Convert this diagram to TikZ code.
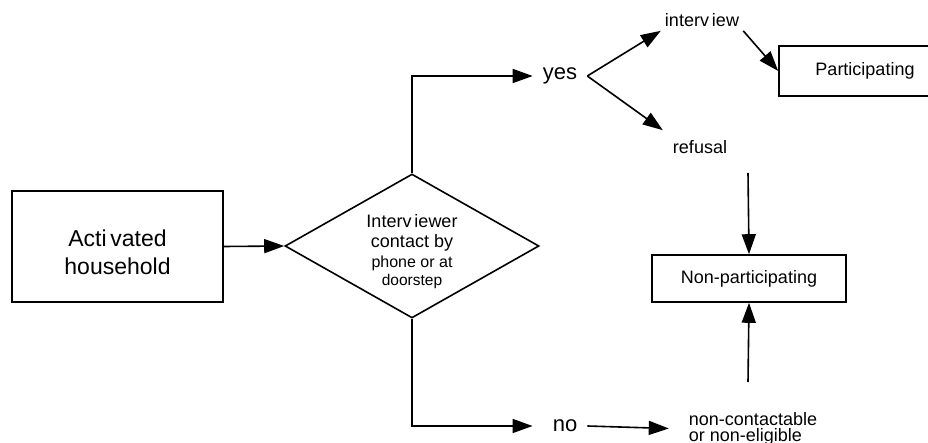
\documentclass[tikz,border=0pt]{standalone}
\usepackage{fontspec}
\setmainfont{Liberation Sans}
\usetikzlibrary{shapes.geometric, arrows.meta}

\tikzset{
  box/.style={draw, line width=1.6pt, inner sep=0pt, align=center},
  dec/.style={draw, diamond, aspect=1.76, line width=1.6pt, inner sep=0pt,
    minimum width=254pt, minimum height=144pt, align=center},
  word/.style={inner sep=4pt, font=\fontsize{18}{18}\selectfont},
  bigword/.style={inner xsep=10pt, inner ysep=2pt, font=\fontsize{22}{22}\selectfont},
  arr/.style={-{Triangle[length=20pt, width=14pt]}, line width=1.6pt}
}

\begin{document}
\begin{tikzpicture}[x=1pt, y=-1pt]
  \useasboundingbox (0, 0) rectangle (928, 443);

  % boxes and decision
  \node[box, minimum width=211pt, minimum height=111pt,
    font=\fontsize{23}{28}\selectfont] (hh) at (117.5, 246.5)
    {\rule{0pt}{28pt}Acti\,vated\\household};
  \node[dec, font=\fontsize{18}{20}\selectfont] (contact) at (412, 246)
    {\rule{0pt}{24pt}Interv\,iewer\\
     contact by\\[0pt]
     \fontsize{16}{18}\selectfont phone or at\\[-2pt]
     \fontsize{15.5}{18}\selectfont doorstep};
  \node[box, minimum width=172pt, minimum height=50pt,
    font=\fontsize{18}{18}\selectfont] (part) at (865, 71) {Participating};
  \node[box, minimum width=194pt, minimum height=47pt,
    font=\fontsize{18}{18}\selectfont] (nonpart) at (749, 278.5) {Non-participating};

  % labels
  \node[bigword] (yes) at (560, 76) {yes};
  \node[bigword] (no) at (565, 426) {no};
  \node[word] (intv) at (702, 20) {interv\,iew};
  \node[word, inner sep=10pt] (ref) at (700, 147) {refusal};
  \node[word, align=left, font=\fontsize{18}{16}\selectfont] (noncont) at (753, 429)
    {non-contactable\\or non-eligible};

  \coordinate (reftop) at (748, 173);
  \coordinate (ncup) at (748, 382);

  % connectors
  \draw[arr] (hh.east) -- (contact.west);
  \draw[arr] (contact.north) |- (yes.west);
  \draw[arr] (yes.east) -- (intv.south west);
  \draw[arr] (yes.east) -- (ref.north west);
  \draw[arr] (intv.south east) -- (part.west);
  \draw[arr] (reftop) -- (nonpart.north);
  \draw[arr] (ncup) -- (nonpart.south);
  \draw[arr, shorten >=10pt] (contact.south) |- (no.west);
  \draw[arr, shorten >=16pt] (no.east) -- (noncont.west);

\end{tikzpicture}
\end{document}
